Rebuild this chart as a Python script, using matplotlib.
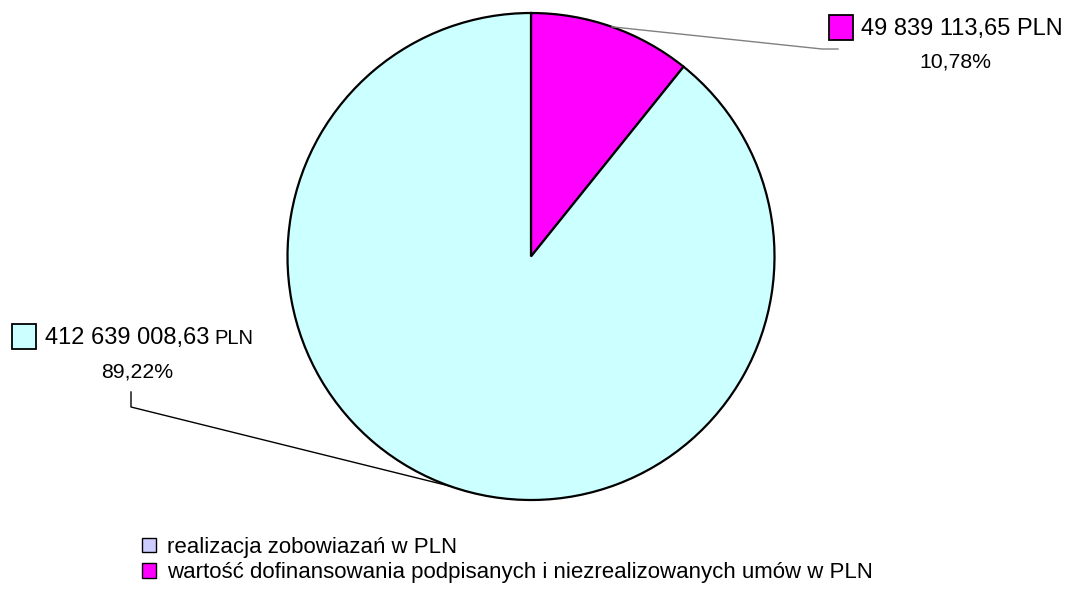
import matplotlib
matplotlib.use('Agg')
from matplotlib import pyplot as plt
from matplotlib.patches import Patch
import numpy as np

# data
categories = ['wartość dofinansowania podpisanych i niezrealizowanych umów w PLN',
              'realizacja zobowiazań w PLN']
values = [49839113.65, 412639008.63]
value_labels = ['49 839 113,65', '412 639 008,63']
pct_labels = ['10,78%', '89,22%']
slice_colors = ['#FF00FF', '#CCFFFF']
legend_labels = ['realizacja zobowiazań w PLN',
                 'wartość dofinansowania podpisanych i niezrealizowanych umów w PLN']
legend_colors = ['#CCCCFF', '#FF00FF']

W, H = 1072, 598
plt.rcParams['font.family'] = ['Liberation Sans', 'DejaVu Sans']

fig = plt.figure(figsize=(W / 100.0, H / 100.0), dpi=100)
ax = fig.add_axes([0, 0, 1, 1])


def py(y):
    # pixel row (from top) -> data y
    return H - y


cx, cy, r = 531, py(256.5), 243.5
wedges, _ = ax.pie(values, colors=slice_colors, startangle=90, counterclock=False,
                   center=(cx, cy), radius=r,
                   wedgeprops=dict(edgecolor='black', linewidth=1.6))
ax.set_xlim(0, W)
ax.set_ylim(0, H)
ax.set_aspect('equal')
ax.axis('off')

# leader line anchors on the pie edge (mid angle of every wedge)
anchors = []
for w in wedges:
    a = np.deg2rad((w.theta1 + w.theta2) / 2.0)
    anchors.append((cx + r * np.cos(a), cy + r * np.sin(a)))

# label 1 (magenta slice, top right)
ax.plot([anchors[0][0], 822, 838], [anchors[0][1], py(49), py(49)], color='#808080', lw=1.0)
ax.add_patch(plt.Rectangle((829, py(40)), 24, 25, facecolor=slice_colors[0],
                           edgecolor='black', lw=1.3))
ax.text(861, py(35), value_labels[0] + ' PLN', fontsize=17, va='baseline', ha='left')
ax.text(955, py(62), pct_labels[0], fontsize=15.3, va='center', ha='center')

# label 2 (cyan slice, left)
ax.plot([anchors[1][0], 131, 131], [anchors[1][1], py(407), py(392)], color='black', lw=1.0)
ax.add_patch(plt.Rectangle((12, py(349)), 24, 25, facecolor=slice_colors[1],
                           edgecolor='black', lw=1.3))
t = ax.text(45, py(344), value_labels[1], fontsize=17, va='baseline', ha='left')
ax.annotate('PLN', xy=(1, py(344)), xycoords=(t, 'data'), xytext=(5, 0),
            textcoords='offset pixels', fontsize=14.5, va='baseline', ha='left')
ax.text(137, py(372), pct_labels[1], fontsize=15.3, va='center', ha='center')

# legend
handles = [Patch(facecolor=c, edgecolor='black', lw=1.0) for c in legend_colors]
leg = ax.legend(handles, legend_labels, loc='upper left', bbox_to_anchor=(142 / W, 1 - 537 / H),
                frameon=False, fontsize=16, handlelength=0.62, handleheight=0.62,
                handletextpad=0.5, labelspacing=0.2, borderpad=0, borderaxespad=0)

plt.savefig('out.png', dpi=100)
